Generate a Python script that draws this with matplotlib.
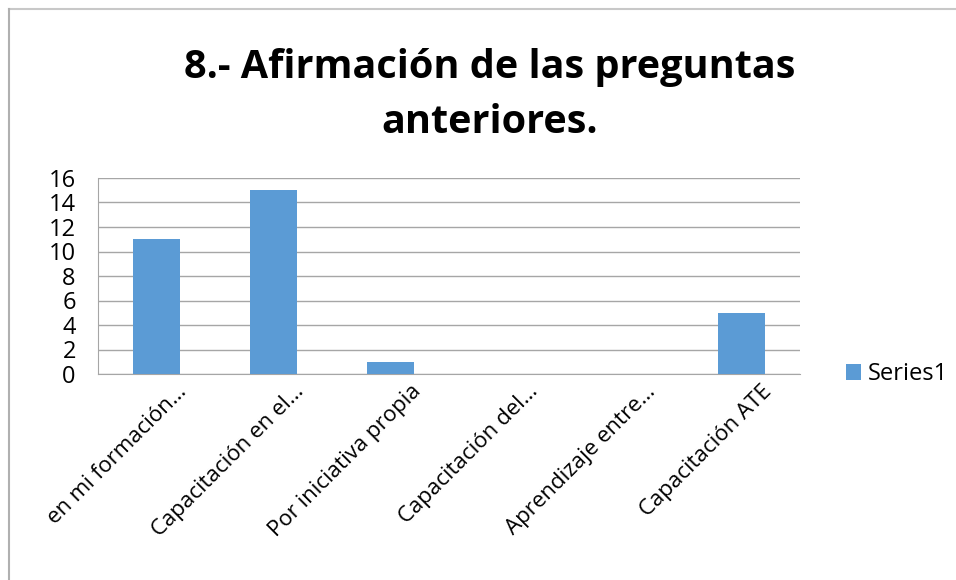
import matplotlib.pyplot as plt
from matplotlib.lines import Line2D
from matplotlib.transforms import ScaledTranslation

categorias = ["en mi formación…", "Capacitación en el…", "Por iniciativa propia",
              "Capacitación del…", "Aprendizaje entre…", "Capacitación ATE"]
valores = [11, 15, 1, 0, 0, 5]
yticks = [0, 2, 4, 6, 8, 10, 12, 14, 16]

plt.rcParams['font.family'] = ['Open Sans', 'DejaVu Sans']

fig = plt.figure(figsize=(9.56, 5.80), dpi=100)
# marco: solo arriba y a la izquierda
fig.lines.append(Line2D([8.5/956, 1], [1 - 8.5/580, 1 - 8.5/580], transform=fig.transFigure,
                        color='#c8c8c8', linewidth=1.5))
fig.lines.append(Line2D([8.5/956, 8.5/956], [0, 1 - 8.5/580], transform=fig.transFigure,
                        color='#b0b0b0', linewidth=1.5))
ax = fig.add_axes([98/956, 1 - 374/580, 702/956, 196/580])

x = range(len(categorias))
ax.bar(x, valores, width=0.4, color='#5b9bd5', label='Series1', zorder=3)

ax.set_xlim(-0.5, len(categorias) - 0.5)
ax.set_ylim(0, 16)
ax.set_yticks(yticks)
ax.set_yticklabels([str(v) for v in yticks], fontsize=17)
ax.yaxis.grid(True, color='#a6a6a6', linewidth=1, zorder=0)
ax.set_xticks(list(x))
ax.set_xticklabels(categorias, rotation=45, ha='right', rotation_mode='anchor', fontsize=16)
ax.tick_params(axis='x', length=0, pad=5)
ax.tick_params(axis='y', length=0, pad=16)
desplaza = ScaledTranslation(0.2, 0, fig.dpi_scale_trans)
for lbl in ax.get_xticklabels():
    lbl.set_transform(lbl.get_transform() + desplaza)
for s in ['top', 'right']:
    ax.spines[s].set_visible(False)
ax.spines['left'].set_color('#a6a6a6')
ax.spines['bottom'].set_color('#a6a6a6')

fig.text(0.512, 0.836, "8.- Afirmación de las preguntas\nanteriores.", ha='center', va='center',
         fontsize=28.5, fontweight='bold', linespacing=1.55)

ax.legend(loc='center left', bbox_to_anchor=(1.035, 0.0), frameon=False, fontsize=17,
          handlelength=0.65, handleheight=0.65, handletextpad=0.3)

fig.savefig("out.png", dpi=100)
